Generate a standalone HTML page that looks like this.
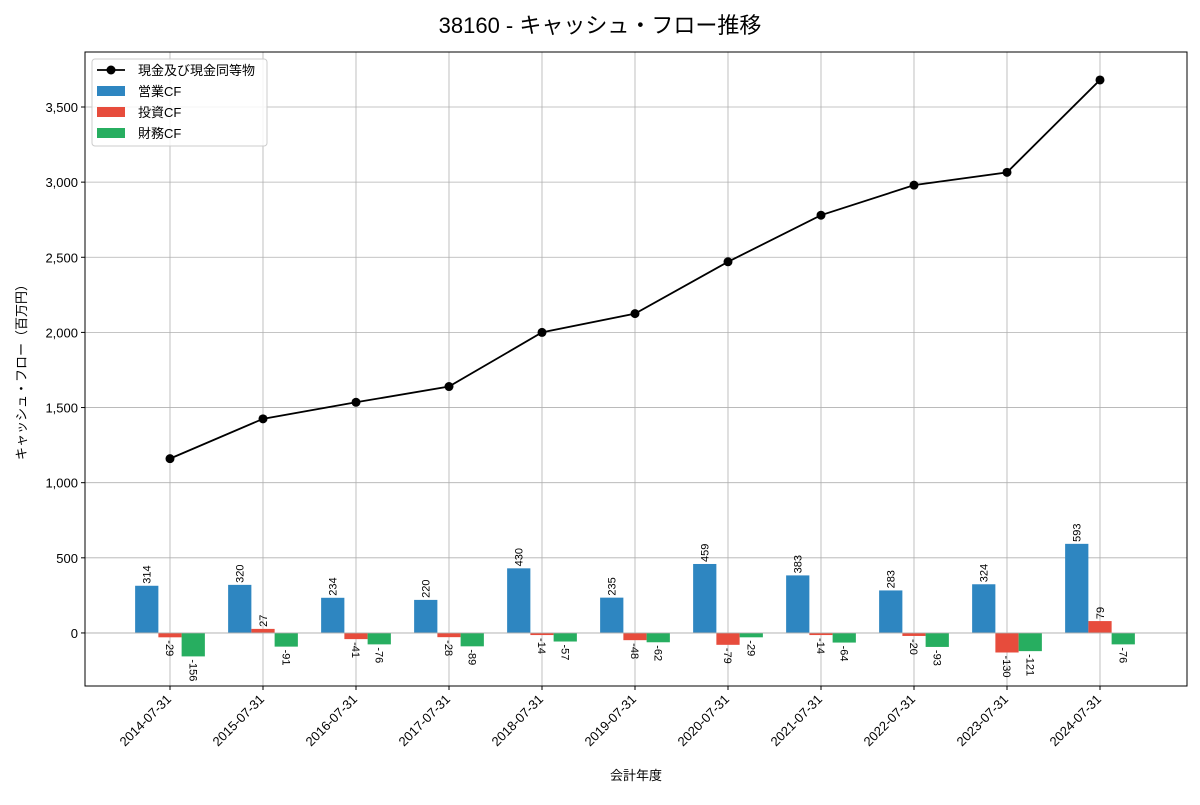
<!DOCTYPE html>
<html><head><meta charset="utf-8"><style>
body{margin:0;background:#fff}
svg{font-family:"Liberation Sans","Noto Sans CJK JP",sans-serif}
</style></head><body>
<svg id="c" width="1200" height="800"></svg>
<script>
const categories=["2014-07-31","2015-07-31","2016-07-31","2017-07-31","2018-07-31","2019-07-31","2020-07-31","2021-07-31","2022-07-31","2023-07-31","2024-07-31"];
const cashValues=[1160,1425,1535,1640,2000,2125,2470,2780,2980,3065,3680];
const operatingValues=[314,320,234,220,430,235,459,383,283,324,593];
const investingValues=[-29,27,-41,-28,-14,-48,-79,-14,-20,-130,79];
const financingValues=[-156,-91,-76,-89,-57,-62,-29,-64,-93,-121,-76];
const yTicks=[0,500,1000,1500,2000,2500,3000,3500];
const yTickLabels=["0","500","1,000","1,500","2,000","2,500","3,000","3,500"];
const NS="http://www.w3.org/2000/svg";
const svg=document.getElementById('c');
const L=85,R=1187,T=52,B=686;
const yMin=-353,yMax=3866;
const y=v=>B-(v-yMin)/(yMax-yMin)*(B-T);
const step=93;
const x=i=>170+step*i;
const bw=step*0.25;
function el(tag,attrs,parent){const e=document.createElementNS(NS,tag);for(const k in attrs)e.setAttribute(k,attrs[k]);(parent||svg).appendChild(e);return e;}
let t=el('text',{x:600,y:33,'text-anchor':'middle','font-size':22,fill:'#000'});t.textContent='38160 - キャッシュ・フロー推移';

const grid=el('g',{});
yTicks.forEach((v,i)=>{el('line',{x1:L,x2:R,y1:y(v),y2:y(v),stroke:'#b0b0b0','stroke-width':0.8},grid);
 el('line',{x1:L-4,x2:L,y1:y(v),y2:y(v),stroke:'#000'});
 const tx=el('text',{x:L-7,y:y(v)+5,'text-anchor':'end','font-size':13});tx.textContent=yTickLabels[i];
 });
categories.forEach((c,i)=>{el('line',{x1:x(i),x2:x(i),y1:T,y2:B,stroke:'#b0b0b0','stroke-width':0.8},grid);
 el('line',{x1:x(i),x2:x(i),y1:B,y2:B+4,stroke:'#000'});
 const tx=el('text',{x:x(i)+2,y:B+14,'text-anchor':'end','font-size':13,transform:`rotate(-45 ${x(i)+2} ${B+14})`});tx.textContent=c;
 });
const series=[[operatingValues,'#2e86c1',-1,'operating-cf-bar'],[investingValues,'#e74c3c',0,'investing-cf-bar'],[financingValues,'#27ae60',1,'financing-cf-bar']];
series.forEach(([vals,col,off,name])=>{vals.forEach((v,i)=>{
 const cx=x(i)+off*bw;const y0=y(0),y1=y(v);
 const r=el('rect',{x:cx-bw/2,y:Math.min(y0,y1),width:bw,height:Math.abs(y1-y0),fill:col});
 
 let lab;
 if(v>=0){lab=el('text',{x:cx+4,y:y1-2,'font-size':11,transform:`rotate(-90 ${cx+4} ${y1-2})`});}
 else{lab=el('text',{x:cx-4,y:y1+3,'font-size':11,transform:`rotate(90 ${cx-4} ${y1+3})`});}
 lab.textContent=v;
});});
el('line',{x1:L,x2:R,y1:y(0),y2:y(0),stroke:'#b0b0b0','stroke-width':0.8});
const pts=cashValues.map((v,i)=>x(i)+','+y(v)).join(' ');
const pl=el('polyline',{points:pts,fill:'none',stroke:'#000','stroke-width':1.8});

cashValues.forEach((v,i)=>{const c=el('circle',{cx:x(i),cy:y(v),r:4.5,fill:'#000'});});
const fr=el('rect',{x:L,y:T,width:R-L,height:B-T,fill:'none',stroke:'#000','stroke-width':1});

let yl=el('text',{x:26,y:369,'text-anchor':'middle','font-size':13,transform:'rotate(-90 26 369)'});yl.textContent='キャッシュ・フロー（百万円）';

let xl=el('text',{x:636,y:780,'text-anchor':'middle','font-size':13});xl.textContent='会計年度';

const lg=el('g',{});
el('rect',{x:92,y:59,width:175,height:87,rx:3,fill:'#fff','fill-opacity':0.85,stroke:'#ccc'},lg);
el('line',{x1:97,x2:125,y1:70,y2:70,stroke:'#000','stroke-width':1.8},lg);
el('circle',{cx:111,cy:70,r:4.5,fill:'#000'},lg);
const items=[['現金及び現金同等物',null],['営業CF','#2e86c1'],['投資CF','#e74c3c'],['財務CF','#27ae60']];
items.forEach(([n,c],i)=>{const yy=70+i*21;
 if(c)el('rect',{x:97,y:yy-5,width:28,height:10,fill:c},lg);
 const e=el('text',{x:138,y:yy+5,'font-size':13},lg);e.textContent=n;
 });
</script>
</body></html>
